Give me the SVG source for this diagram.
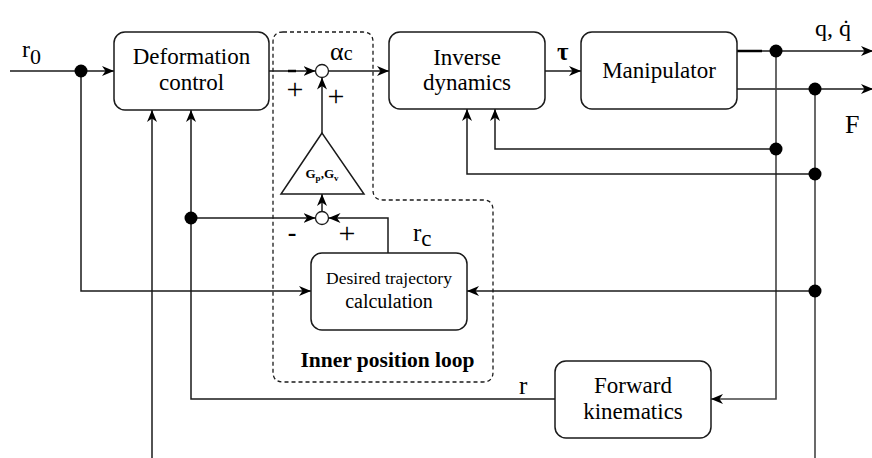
<svg xmlns="http://www.w3.org/2000/svg" width="872" height="458" viewBox="0 0 872 458" font-family="'Liberation Serif','Times New Roman',serif">
<style>
text{font-family:"Liberation Serif","Times New Roman",serif;fill:#000}
.box{fill:#fff;stroke:#1a1a1a;stroke-width:1.5}
.lbl{font-size:23px;text-anchor:middle}
.w{fill:none;stroke:#1a1a1a;stroke-width:1.5}
.g{fill:none;stroke:#444;stroke-width:1.6}
.dot{fill:#000}
.sum{fill:#fff;stroke:#1a1a1a;stroke-width:1.3}
.sign{font-size:30px;text-anchor:middle}
</style>
<defs>
<marker id="ah" markerUnits="userSpaceOnUse" markerWidth="13" markerHeight="11" refX="12" refY="5" orient="auto">
<path d="M0,0 L12,5 L0,10 L3.5,5 z" fill="#000"/>
</marker>
</defs>
<rect width="872" height="458" fill="#fff"/>

<g id="inner-loop">
<path d="M283,32 H363 Q373,32 373,42 V190 Q373,200 383,200 H483 Q493,200 493,210 V372 Q493,382 483,382 H283 Q273,382 273,372 V42 Q273,32 283,32 Z" fill="none" stroke="#1a1a1a" stroke-width="1.3" stroke-dasharray="4,3"/>
<text x="387.5" y="367" font-size="21.5" font-weight="bold" text-anchor="middle">Inner position loop</text>
</g>

<g id="connectors">
<path class="w" d="M10,71 H114" marker-end="url(#ah)"/>
<path class="w" d="M81,71 V291 H311" marker-end="url(#ah)"/>
<path class="w" d="M152,458 V110" marker-end="url(#ah)"/>
<path class="w" d="M555,399 H191 V110" marker-end="url(#ah)"/>
<path class="w" d="M191,218 H315.5" marker-end="url(#ah)"/>
<path class="w" d="M388,253 V218 H328.5" marker-end="url(#ah)"/>
<path class="w" d="M322,211.5 V194" marker-end="url(#ah)"/>
<path class="w" d="M322,133 V77.5" marker-end="url(#ah)"/>
<path class="w" d="M269,71 H315.5" marker-end="url(#ah)"/>
<path d="M288,71 H296" stroke="#000" stroke-width="2.5"/>
<path class="w" d="M328.5,71 H389" marker-end="url(#ah)"/>
<path class="w" d="M545,71 H581" marker-end="url(#ah)"/>
<path class="w" d="M737,51 H873" marker-end="url(#ah)"/>
<path d="M737,51 H762" stroke="#000" stroke-width="2.5"/>
<path class="w" d="M737,89 H873" marker-end="url(#ah)"/>
<path class="g" d="M776,51 V399 H711" marker-end="url(#ah)"/>
<path class="g" d="M815,89 V458"/>
<path class="w" d="M776,149 H495 V109" marker-end="url(#ah)"/>
<path class="w" d="M815,174 H467 V109" marker-end="url(#ah)"/>
<path class="w" d="M815,291 H467" marker-end="url(#ah)"/>
<circle class="dot" cx="81" cy="71" r="6.5"/>
<circle class="dot" cx="191" cy="218" r="6.5"/>
<circle class="dot" cx="776" cy="51" r="6.5"/>
<circle class="dot" cx="815" cy="89" r="6.5"/>
<circle class="dot" cx="776" cy="149" r="6.5"/>
<circle class="dot" cx="815" cy="174" r="6.5"/>
<circle class="dot" cx="815" cy="291" r="6.5"/>
</g>

<g id="deformation-control">
<rect class="box" x="114" y="32" width="155" height="78" rx="11"/>
<text class="lbl" x="191.5" y="64">Deformation</text>
<text class="lbl" x="191.5" y="90">control</text>
</g>

<g id="sum-alpha">
<circle class="sum" cx="322" cy="71" r="6.5"/>
<text class="sign" x="295" y="99">+</text>
<text class="sign" x="336" y="106">+</text>
<text x="330" y="60" font-size="26">α<tspan font-size="20">c</tspan></text>
</g>

<g id="gain">
<polygon points="322,133 281,194 364,194" fill="#fff" stroke="#1a1a1a" stroke-width="1.5"/>
<text x="322" y="178" font-size="13" font-weight="bold" text-anchor="middle">G<tspan font-size="9" dy="3">p</tspan><tspan dy="-3">,G</tspan><tspan font-size="9" dy="3">v</tspan></text>
</g>

<g id="sum-r">
<circle class="sum" cx="322" cy="218" r="6.5"/>
<text x="292" y="241" font-size="26" font-weight="bold" text-anchor="middle">-</text>
<text class="sign" x="347" y="243">+</text>
<text x="413" y="241" font-size="25">r<tspan font-size="23" dy="5">c</tspan></text>
</g>

<g id="inverse-dynamics">
<rect class="box" x="389" y="32" width="156" height="77" rx="11"/>
<text class="lbl" x="467" y="65">Inverse</text>
<text class="lbl" x="467" y="90">dynamics</text>
</g>

<g id="manipulator">
<rect class="box" x="581" y="32" width="156" height="77" rx="11"/>
<text class="lbl" x="659" y="78">Manipulator</text>
</g>

<g id="desired-trajectory">
<rect class="box" x="311" y="253" width="156" height="77" rx="11"/>
<text x="389" y="284" font-size="17.5" text-anchor="middle">Desired trajectory</text>
<text x="389" y="308" font-size="20" text-anchor="middle">calculation</text>
</g>

<g id="forward-kinematics">
<rect class="box" x="555" y="361" width="156" height="77" rx="11"/>
<text class="lbl" x="633" y="393">Forward</text>
<text class="lbl" x="633" y="419">kinematics</text>
</g>

<g id="labels">
<text x="22" y="57" font-size="24">r<tspan font-size="22" dy="7">0</tspan></text>
<text x="557" y="60" font-size="25" font-weight="bold">τ</text>
<text x="815" y="36" font-size="24">q, q̇</text>
<text x="845" y="133" font-size="26">F</text>
<text x="519" y="394" font-size="25">r</text>
</g>
</svg>
